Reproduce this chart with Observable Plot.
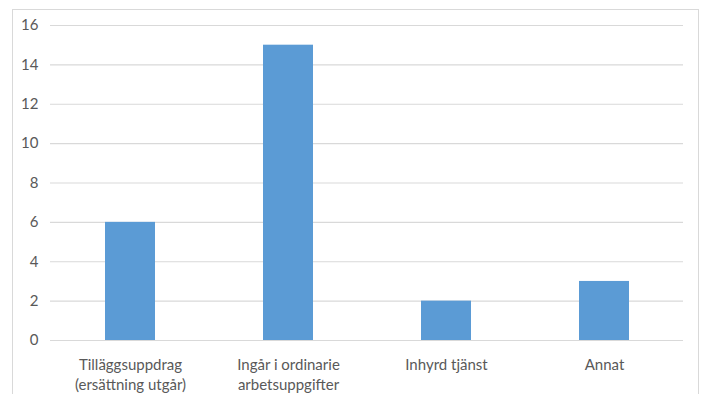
<!DOCTYPE html>
<html>
<head>
<meta charset="utf-8">
<script src="https://cdn.jsdelivr.net/npm/d3@7"></script>
<script src="https://cdn.jsdelivr.net/npm/@observablehq/plot@0.6"></script>
<style>
  html, body { margin: 0; padding: 0; background: #fff; overflow: hidden; }
  #wrap { position: relative; width: 705px; height: 394px; }
  #box { position: absolute; left: 12px; top: 9px; width: 687px; height: 420px; border: 1px solid #d9d9d9; box-sizing: border-box; pointer-events: none; }
</style>
</head>
<body>
<div id="wrap"><div id="box"></div></div>
<script>
// Answer categories and their counts
const categories = [
  "Tilläggsuppdrag\n(ersättning utgår)",
  "Ingår i ordinarie\narbetsuppgifter",
  "Inhyrd tjänst",
  "Annat"
];
const counts = [6, 15, 2, 3];
const yTicks = [0, 2, 4, 6, 8, 10, 12, 14, 16];

const rows = categories.map((c, i) => ({category: c, count: counts[i]}));

const textColor = "#595959";
const gridColor = "#d9d9d9";

const chart = Plot.plot({
  width: 705,
  height: 394,
  marginLeft: 50,
  marginRight: 22,
  marginTop: 25,
  marginBottom: 54,
  style: {fontFamily: "Lato, 'Open Sans', sans-serif", fontSize: "15px", color: textColor, background: "transparent"},
  x: {domain: categories, paddingInner: 0.684, paddingOuter: 0.342, label: null},
  y: {domain: [0, 16], label: null},
  marks: [
    Plot.ruleY(yTicks, {stroke: gridColor, strokeWidth: 1.2}),
    Plot.barY(rows, {x: "category", y: "count", fill: "#5b9bd5"}),
    Plot.axisY({ticks: yTicks, tickSize: 0, tickPadding: 12, fontSize: 15, fill: textColor, label: null}),
    Plot.axisX({tickSize: 0, tickPadding: 15, fontSize: 15, lineHeight: 1.35, fill: textColor, label: null})
  ]
});

document.getElementById("wrap").prepend(chart);
</script>
</body>
</html>
